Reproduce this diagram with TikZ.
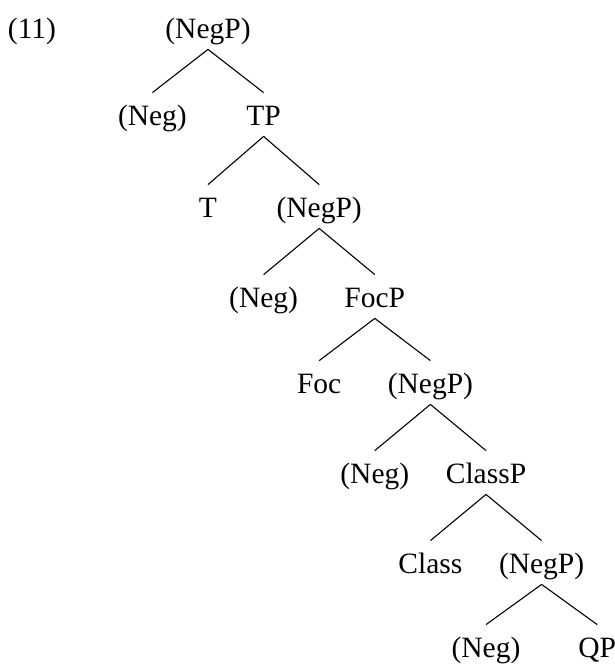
\documentclass[tikz,border=0pt]{standalone}
\usepackage{fontspec}
\setmainfont{Liberation Serif}
\begin{document}
\begin{tikzpicture}[x=0.5pt,y=-0.5pt,
  lab/.style={anchor=base,inner sep=0pt,text height=16pt,text depth=5.5pt,font=\fontsize{14.75}{18}\selectfont},
  br/.style={line width=0.55pt}]
\useasboundingbox (0,0) rectangle (615,670);
\node[lab] (ex) at (32,38) {(11)};
% spine x: 208 + 55.6k
\node[lab] (n0) at (208,38) {(NegP)};
\node[lab] (g1) at (152.4,125) {(Neg)};
\node[lab] (tp) at (263.6,125) {TP};
\node[lab] (t) at (208,217) {T};
\node[lab] (n2) at (319.2,217) {(NegP)};
\node[lab] (g3) at (263.6,307) {(Neg)};
\node[lab] (foc) at (374.8,307) {FocP};
\node[lab] (f) at (319.2,393) {Foc};
\node[lab] (n4) at (430.4,393) {(NegP)};
\node[lab] (g5) at (374.8,483) {(Neg)};
\node[lab] (cl) at (486,483) {ClassP};
\node[lab] (c) at (430.4,573) {Class};
\node[lab] (n6) at (541.6,573) {(NegP)};
\node[lab] (g7) at (486,657) {(Neg)};
\node[lab] (qp) at (597.2,657) {QP};
\foreach \p/\a/\b in {n0/g1/tp, tp/t/n2, n2/g3/foc, foc/f/n4, n4/g5/cl, cl/c/n6, n6/g7/qp}{
  \draw[br] (\p.south) -- (\a.north);
  \draw[br] (\p.south) -- (\b.north);
}
\end{tikzpicture}
\end{document}
